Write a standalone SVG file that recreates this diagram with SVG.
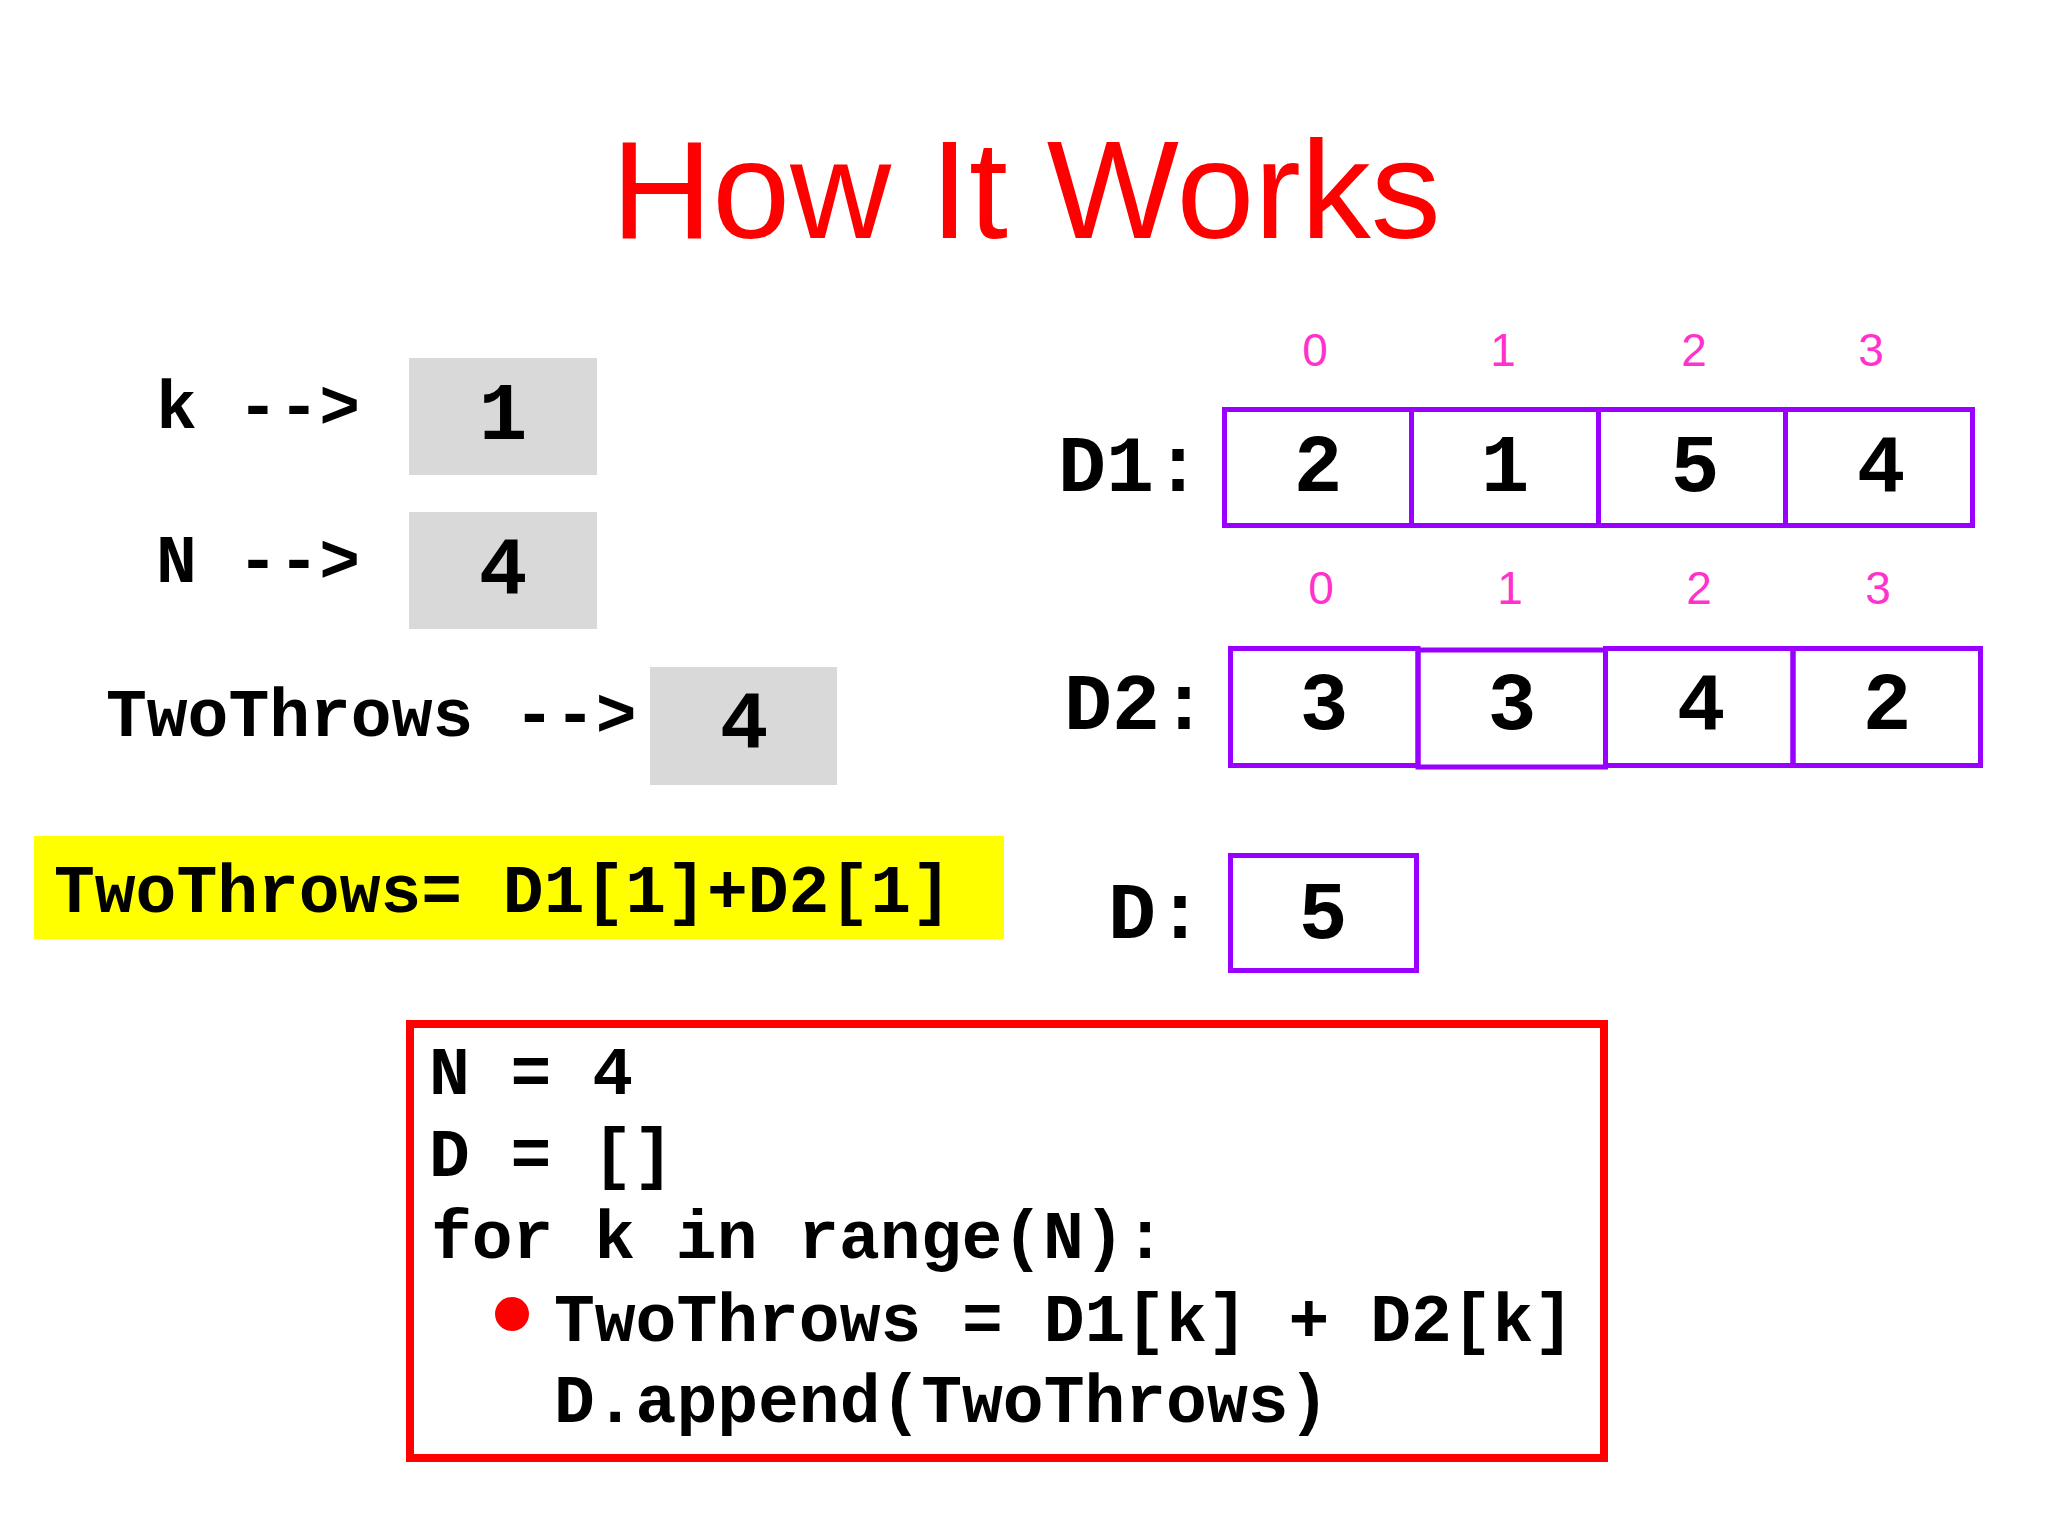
<svg xmlns="http://www.w3.org/2000/svg" width="2048" height="1536" viewBox="0 0 2048 1536">
<style>
.mono{font-family:"Liberation Mono","Courier New",monospace;font-weight:bold;fill:#000}
.t{font-size:68px}
.big{font-size:80px}
.num{font-size:81px;text-anchor:middle}
.idx{font-family:"Liberation Sans",Arial,sans-serif;font-size:46px;fill:#ff33cc;text-anchor:middle}
.gray{fill:#d9d9d9}
.cell{fill:none;stroke:#9900ff;stroke-width:5}
</style>
<rect width="2048" height="1536" fill="#fff"/>
<g id="title">
<text x="1026" y="238" text-anchor="middle" font-family="Liberation Sans,Arial,sans-serif" font-size="140" fill="#ff0000">How It Works</text>
</g>
<g id="var-k">
<text class="mono t" x="156" y="428">k --&gt;</text>
<rect class="gray" x="409" y="358" width="188" height="117"/>
<text class="mono num" x="503" y="439">1</text>
</g>
<g id="var-N">
<text class="mono t" x="156" y="582">N --&gt;</text>
<rect class="gray" x="409" y="512" width="188" height="117"/>
<text class="mono num" x="503" y="593">4</text>
</g>
<g id="var-TwoThrows">
<text class="mono t" x="106" y="736">TwoThrows --&gt;</text>
<rect class="gray" x="650" y="667" width="187" height="118"/>
<text class="mono num" x="744" y="747">4</text>
</g>
<g id="assignment">
<rect x="34" y="836" width="970" height="103" fill="#ffff00"/>
<text class="mono t" x="54" y="912">TwoThrows= D1[1]+D2[1]</text>
</g>
<g id="array-D1">
<text class="mono big" x="1058" y="491">D1:</text>
<text class="idx" x="1315" y="366">0</text>
<text class="idx" x="1503" y="366">1</text>
<text class="idx" x="1694" y="366">2</text>
<text class="idx" x="1871" y="366">3</text>
<rect class="cell" x="1224.5" y="409.5" width="187" height="116"/>
<rect class="cell" x="1411.5" y="409.5" width="187" height="116"/>
<rect class="cell" x="1598.5" y="409.5" width="187" height="116"/>
<rect class="cell" x="1785.5" y="409.5" width="187" height="116"/>
<text class="mono num" x="1318" y="491">2</text>
<text class="mono num" x="1505" y="491">1</text>
<text class="mono num" x="1695" y="491">5</text>
<text class="mono num" x="1881" y="491">4</text>
</g>
<g id="array-D2">
<text class="mono big" x="1064" y="729">D2:</text>
<text class="idx" x="1321" y="604">0</text>
<text class="idx" x="1510" y="604">1</text>
<text class="idx" x="1699" y="604">2</text>
<text class="idx" x="1878" y="604">3</text>
<rect class="cell" x="1230.5" y="648.5" width="187.5" height="117"/>
<rect class="cell" x="1418" y="650" width="187.5" height="117"/>
<rect class="cell" x="1605.5" y="648.5" width="187.5" height="117"/>
<rect class="cell" x="1793" y="648.5" width="187.5" height="117"/>
<text class="mono num" x="1324" y="729">3</text>
<text class="mono num" x="1512" y="729">3</text>
<text class="mono num" x="1701" y="729">4</text>
<text class="mono num" x="1887" y="729">2</text>
</g>
<g id="array-D">
<text class="mono big" x="1108" y="938">D:</text>
<rect class="cell" x="1230.5" y="855.5" width="186" height="115"/>
<text class="mono num" x="1323" y="938">5</text>
</g>
<g id="code">
<rect x="410" y="1024" width="1194" height="434" fill="none" stroke="#ff0000" stroke-width="8"/>
<text class="mono t" x="429" y="1094">N = 4</text>
<text class="mono t" x="429" y="1176">D = []</text>
<text class="mono t" x="431" y="1258">for k in range(N):</text>
<circle cx="512" cy="1314" r="17" fill="#ff0000"/>
<text class="mono t" x="554" y="1341">TwoThrows = D1[k] + D2[k]</text>
<text class="mono t" x="554" y="1422">D.append(TwoThrows)</text>
</g>
<g id="connectors"/>
</svg>
